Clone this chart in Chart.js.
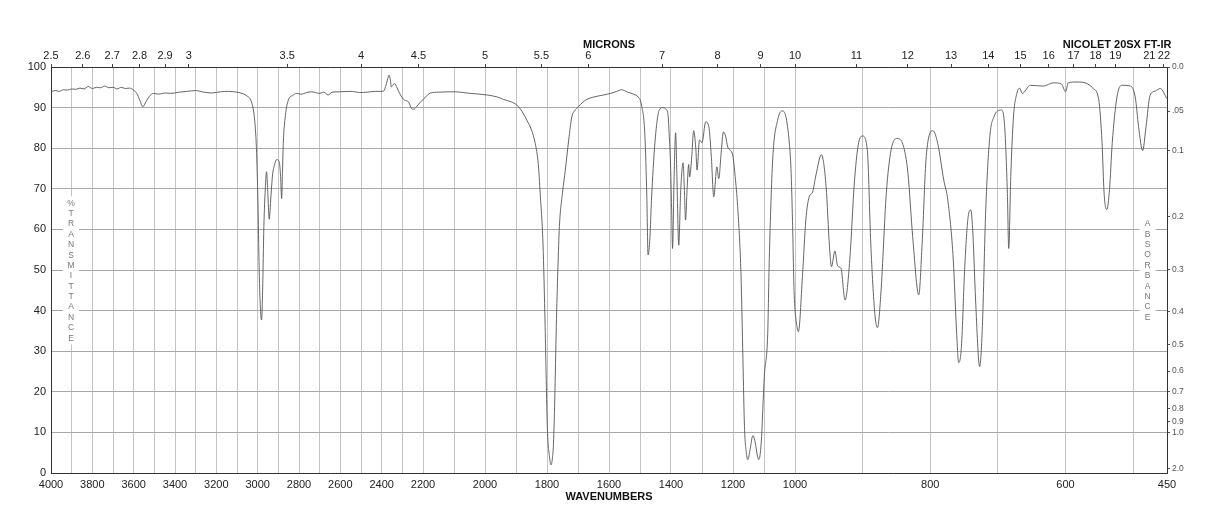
<!DOCTYPE html>
<html>
<head>
<meta charset="utf-8">
<script src="https://cdn.jsdelivr.net/npm/chart.js@4.4.1/dist/chart.umd.min.js"></script>
<style>
  html, body { margin: 0; padding: 0; background: #fff; }
  #wrap { width: 1218px; height: 528px; }
</style>
</head>
<body>
<div id="wrap"><canvas id="irChart" width="1218" height="528"></canvas></div>
<script>
// spectrum: wavenumber (cm-1) and %T
const wavenumbers = [
  4000, 3980, 3960, 3940, 3920, 3900, 3880, 3860, 3840, 3820, 3800, 3780, 3760, 3740, 3720, 3700,
  3680, 3660, 3640, 3620, 3600, 3585, 3570, 3556, 3540, 3520, 3504, 3480, 3450, 3420, 3380, 3340,
  3300, 3260, 3220, 3180, 3140, 3101, 3070, 3050, 3037, 3025, 3018, 3010, 3005, 2998, 2992, 2985,
  2981, 2976, 2970, 2963, 2957, 2950, 2944, 2936, 2928, 2918, 2908, 2896, 2889, 2884, 2880, 2876,
  2866, 2852, 2830, 2812, 2790, 2763, 2740, 2700, 2680, 2659, 2640, 2600, 2554, 2530, 2506, 2470,
  2430, 2393, 2385, 2377, 2370, 2364, 2358, 2353, 2345, 2337, 2325, 2313, 2300, 2289, 2270, 2256,
  2245, 2232, 2215, 2197, 2175, 2150, 2100, 2047, 1993, 1960, 1940, 1915, 1897, 1880, 1865, 1850,
  1838, 1828, 1822, 1813, 1806, 1799, 1792, 1787, 1782, 1779, 1775, 1770, 1765, 1760, 1750, 1741,
  1730, 1720, 1710, 1699, 1685, 1672, 1650, 1618, 1590, 1575, 1559, 1540, 1520, 1506, 1495, 1484,
  1478, 1474, 1468, 1463, 1452, 1438, 1426, 1416, 1410, 1405, 1402, 1398, 1395, 1390, 1385, 1381,
  1375, 1369, 1361, 1357, 1353, 1348, 1343, 1340, 1333, 1327, 1320, 1316, 1308, 1300, 1288, 1278,
  1270, 1262, 1252, 1246, 1238, 1231, 1224, 1217, 1201, 1193, 1185, 1174, 1168, 1163, 1157, 1152,
  1145, 1136, 1128, 1122, 1117, 1109, 1099, 1088, 1083, 1072, 1056, 1040, 1030, 1024, 1018, 1013,
  1008, 1003, 997, 995, 989, 984, 979, 974, 969, 961, 954, 949, 946, 941, 937, 932,
  926, 919, 912, 905, 900, 893, 888, 882, 878, 873, 865, 858, 849, 840, 833, 826,
  817, 812, 806, 796, 789, 780, 774, 766, 761, 758, 754, 749, 744, 740, 737, 733,
  727, 723, 718, 712, 706, 695, 690, 686, 684, 681, 677, 672, 668, 664, 652, 633,
  618, 606, 600, 596, 583, 571, 559, 551, 546, 543, 539, 535, 531, 524, 517, 504,
  497, 492, 486, 481, 475, 467, 460, 450
];
const transmittance = [
  93.9, 94.2, 94.0, 94.4, 94.3, 94.6, 94.5, 94.8, 94.6, 95.2, 94.7, 95.0, 94.9, 95.3, 94.9, 95.0,
  94.6, 95.0, 94.7, 94.8, 94.3, 93.5, 91.8, 90.2, 91.5, 93.0, 93.5, 93.3, 93.6, 93.5, 93.8, 94.0,
  94.2, 93.8, 93.6, 93.9, 94.0, 93.8, 93.4, 92.8, 92.2, 90.5, 88.5, 84.0, 78.7, 65.0, 48.4, 39.0,
  37.7, 45.0, 60.7, 70.0, 74.2, 68.0, 62.5, 68.0, 73.4, 76.0, 77.2, 76.7, 73.0, 67.6, 74.0, 81.2,
  88.0, 91.8, 93.0, 93.5, 93.3, 93.7, 93.9, 93.5, 93.8, 93.1, 93.8, 93.9, 94.0, 93.9, 93.7, 93.8,
  94.0, 94.0, 94.6, 95.9, 97.2, 98.0, 96.8, 95.1, 95.6, 95.9, 94.8, 93.5, 92.4, 91.8, 91.4, 89.8,
  89.6, 90.2, 91.2, 92.2, 93.6, 93.8, 93.9, 93.5, 93.1, 92.6, 92.0, 91.4, 90.6, 89.0, 86.9, 84.5,
  81.2, 76.0, 68.9, 56.6, 36.1, 11.5, 4.0, 2.0, 4.0, 7.4, 18.0, 36.1, 50.0, 60.7, 69.0, 74.6,
  82.0, 87.7, 89.3, 90.2, 91.3, 92.0, 92.6, 93.1, 93.6, 94.0, 94.4, 93.8, 93.3, 92.6, 90.6, 82.8,
  68.0, 53.7, 58.0, 67.2, 81.2, 89.4, 90.0, 89.6, 88.5, 82.0, 77.1, 65.0, 55.3, 73.0, 83.8, 73.0,
  56.1, 69.0, 76.4, 70.0, 62.3, 70.0, 76.0, 72.9, 78.0, 84.3, 80.0, 74.6, 82.0, 81.4, 86.5, 85.3,
  78.0, 68.0, 75.4, 72.5, 79.0, 84.0, 83.0, 80.3, 78.3, 73.0, 65.6, 48.4, 28.0, 11.5, 5.0, 3.3,
  5.7, 9.2, 7.4, 4.5, 3.3, 7.4, 23.8, 34.4, 52.5, 77.1, 86.9, 89.2, 88.0, 85.3, 81.0, 75.0,
  62.0, 45.0, 36.0, 34.8, 48.4, 62.3, 68.0, 69.2, 73.4, 78.4, 70.5, 55.7, 50.8, 54.7, 51.0, 50.4,
  42.6, 52.5, 72.1, 82.0, 83.0, 79.4, 56.6, 39.3, 35.8, 44.3, 68.9, 79.5, 82.4, 80.7, 73.8, 58.2,
  43.9, 56.6, 77.9, 84.3, 81.2, 72.1, 67.2, 52.5, 34.4, 27.2, 31.0, 50.8, 63.1, 64.8, 59.0, 42.6,
  26.2, 36.0, 64.8, 82.8, 87.7, 89.4, 85.3, 68.9, 55.3, 73.0, 87.7, 93.5, 94.8, 93.5, 95.5, 95.3,
  96.1, 95.8, 93.9, 96.1, 96.3, 96.1, 94.7, 92.0, 81.2, 68.9, 64.9, 69.8, 81.2, 92.6, 95.5, 95.3,
  92.6, 85.3, 79.4, 85.3, 93.0, 94.1, 94.7, 92.2
];

// axis ticks
const wnGridTicks = [];
for (let v = 4000; v >= 500; v -= 100) wnGridTicks.push(v);
wnGridTicks.push(450);
const wnTickLabels = [4000, 3800, 3600, 3400, 3200, 3000, 2800, 2600, 2400, 2200, 2000,
  1800, 1600, 1400, 1200, 1000, 800, 600, 450];
const micronTicks = [2.5, 2.6, 2.7, 2.8, 2.9, 3, 3.5, 4, 4.5, 5, 5.5, 6, 7, 8, 9, 10,
  11, 12, 13, 14, 15, 16, 17, 18, 19, 21, 22];
const absorbanceTicks = [0.0, 0.05, 0.1, 0.2, 0.3, 0.4, 0.5, 0.6, 0.7, 0.8, 0.9, 1.0, 2.0];
const absorbanceLabels = ['0.0', '.05', '0.1', '0.2', '0.3', '0.4', '0.5', '0.6', '0.7',
  '0.8', '0.9', '1.0', '2.0'];

// the x axis is three equal panels: 4000-2200, 2200-1000, 1000-450
const panelEdges = [4000, 2200, 1000, 450];

class IrWaveScale extends Chart.LinearScale {
  fracOf(v) {
    let i = 0;
    if (v < panelEdges[1]) i = 1;
    if (v < panelEdges[2]) i = 2;
    const a = panelEdges[i], b = panelEdges[i + 1];
    return (i + (a - v) / (a - b)) / 3;
  }
  getPixelForValue(v) {
    return this.left + this.width * this.fracOf(v);
  }
  getValueForPixel(p) {
    const f = (p - this.left) / this.width * 3;
    const i = Math.min(2, Math.max(0, Math.floor(f)));
    return panelEdges[i] - (f - i) * (panelEdges[i] - panelEdges[i + 1]);
  }
}
IrWaveScale.id = 'irwave';
IrWaveScale.defaults = Chart.LinearScale.defaults;
Chart.register(IrWaveScale);

Chart.defaults.font.family = '"Liberation Sans", Arial, Helvetica, sans-serif';
Chart.defaults.color = '#222';

const FONT = '"Liberation Sans", Arial, Helvetica, sans-serif';

const sideLabels = {
  id: 'sideLabels',
  beforeDatasetsDraw(chart) {
    const ctx = chart.ctx;
    const area = chart.chartArea;
    const stack = (text, x, y0, step) => {
      const n = text.length;
      ctx.fillStyle = '#fff';
      ctx.fillRect(x - 8, y0 - 7, 16, (n - 1) * step + 13);
      ctx.fillStyle = '#777';
      ctx.font = '8.5px ' + FONT;
      ctx.textAlign = 'center';
      ctx.textBaseline = 'middle';
      for (let i = 0; i < n; i++) ctx.fillText(text[i], x, y0 + i * step);
    };
    ctx.save();
    stack('%TRANSMITTANCE', area.left + 20, 203.3, 10.38);
    stack('ABSORBANCE', area.right - 19.5, 224, 10.37);
    ctx.restore();
  },
  afterDraw(chart) {
    const ctx = chart.ctx;
    ctx.save();
    ctx.fillStyle = '#111';
    ctx.font = 'bold 11px ' + FONT;
    ctx.textAlign = 'right';
    ctx.textBaseline = 'middle';
    ctx.fillText('NICOLET 20SX FT-IR', chart.chartArea.right + 4.5, 45);
    ctx.restore();
  }
};

const ctx = document.getElementById('irChart').getContext('2d');
const irChart = new Chart(ctx, {
  type: 'line',
  data: {
    datasets: [{
      data: wavenumbers.map((w, i) => ({ x: w, y: transmittance[i] })),
      borderColor: '#555',
      borderWidth: 0.9,
      pointRadius: 0,
      fill: false,
      cubicInterpolationMode: 'monotone',
      xAxisID: 'x',
      yAxisID: 'y'
    }]
  },
  plugins: [sideLabels],
  options: {
    responsive: false,
    animation: false,
    events: [],
    plugins: { legend: { display: false }, tooltip: { enabled: false } },
    layout: { padding: 0 },
    scales: {
      x: {
        type: 'irwave',
        position: 'bottom',
        min: 450,
        max: 4000,
        afterBuildTicks: s => { s.ticks = wnGridTicks.map(v => ({ value: v })); },
        afterFit: s => { s.height = 55; },
        ticks: {
          autoSkip: false,
          maxRotation: 0,
          padding: 5,
          font: { size: 11 },
          color: '#222',
          callback: v => wnTickLabels.includes(v) ? String(v) : ''
        },
        grid: { color: '#c4c4c4', lineWidth: 1, drawTicks: false },
        border: { color: '#333', width: 1 },
        title: {
          display: true,
          text: 'WAVENUMBERS',
          font: { size: 11, weight: 'bold' },
          color: '#111',
          padding: { top: 0, bottom: 24.7 }
        }
      },
      xTop: {
        type: 'irwave',
        position: 'top',
        min: 450,
        max: 4000,
        afterBuildTicks: s => { s.ticks = micronTicks.map(m => ({ value: 10000 / m })); },
        afterFit: s => { s.height = 67; },
        ticks: {
          autoSkip: false,
          maxRotation: 0,
          padding: 1,
          font: { size: 11 },
          color: '#222',
          callback: (v, i) => String(micronTicks[i])
        },
        grid: { drawOnChartArea: false, tickLength: 3, color: '#444' },
        border: { color: '#333', width: 1 },
        title: {
          display: true,
          text: 'MICRONS',
          font: { size: 11, weight: 'bold' },
          color: '#111',
          padding: { top: 38.4, bottom: 0 }
        }
      },
      y: {
        type: 'linear',
        position: 'left',
        min: 0,
        max: 100,
        afterFit: s => { s.width = 51; },
        ticks: { stepSize: 10, padding: 5, font: { size: 11 }, color: '#222' },
        grid: { color: '#a8a8a8', lineWidth: 1, drawTicks: false },
        border: { color: '#333', width: 1 }
      },
      yAbs: {
        type: 'linear',
        position: 'right',
        min: 0,
        max: 100,
        afterBuildTicks: s => {
          s.ticks = absorbanceTicks.map(a => ({ value: 100 * Math.pow(10, -a) }));
        },
        afterFit: s => { s.width = 51; },
        ticks: {
          autoSkip: false,
          padding: 2,
          font: { size: 8.5 },
          color: '#555',
          callback: (v, i) => absorbanceLabels[i]
        },
        grid: { drawOnChartArea: false, tickLength: 3, color: '#555' },
        border: { color: '#333', width: 1 }
      }
    }
  }
});
</script>
</body>
</html>
